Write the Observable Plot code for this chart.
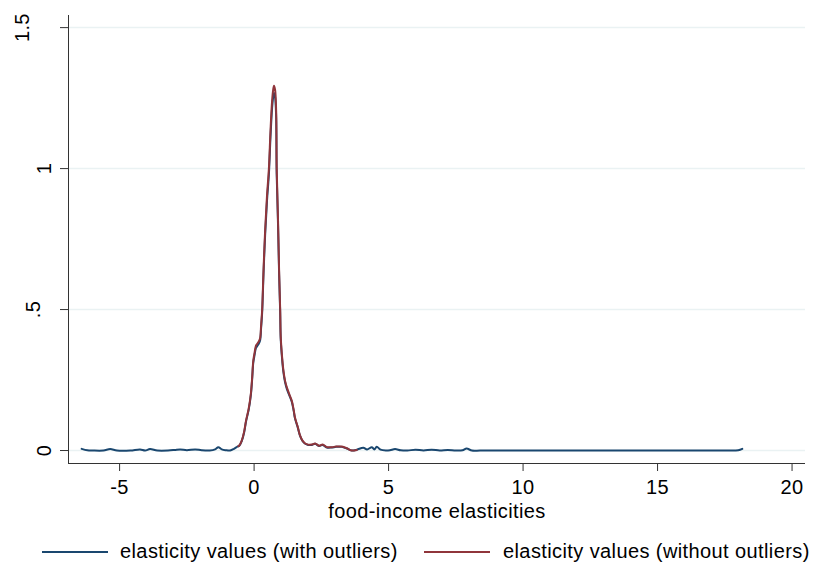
<!DOCTYPE html>
<html>
<head>
<meta charset="utf-8">
<script src="https://cdn.jsdelivr.net/npm/d3@7"></script>
<script src="https://cdn.jsdelivr.net/npm/@observablehq/plot@0.6"></script>
<style>
  html, body { margin: 0; padding: 0; background: #fff; }
  body { width: 816px; height: 562px; overflow: hidden; font-family: "Liberation Sans", Arial, sans-serif; }
  #legend { position: relative; width: 816px; height: 37px; }
  .sw { position: absolute; height: 2px; top: 26px; }
  .lt { position: absolute; top: 16px; font-size: 20px; line-height: 20px; letter-spacing: 0.4px; color: #000; white-space: nowrap; }
</style>
</head>
<body>
<div id="chart"></div>
<div id="legend">
  <div class="sw" style="left:42px;width:66px;background:#1a476f"></div>
  <div class="lt" id="l1" style="left:120px"></div>
  <div class="sw" style="left:424px;width:66px;background:#90353b"></div>
  <div class="lt" id="l2" style="left:503px"></div>
</div>
<script>
const seriesNames = ["elasticity values (with outliers)", "elasticity values (without outliers)"];
const xLabel = "food-income elasticities";
const xTicks = [-5, 0, 5, 10, 15, 20];
const yTicks = [0, 0.5, 1, 1.5];
const yTickLabels = ["0", ".5", "1", "1.5"];

// with outliers (blue)
const withX = [-6.41, -6.2, -6.0, -5.6, -5.35, -5.1, -4.6, -4.24, -4.05, -3.87, -3.6, -3.2, -2.95, -2.75, -2.5, -2.19, -1.95, -1.65, -1.45, -1.33, -1.2, -1.05, -0.89, -0.75, -0.62, -0.55, -0.46, -0.37, -0.30, -0.20, -0.12, -0.07, -0.03, 0.02, 0.07, 0.15, 0.22, 0.26, 0.30, 0.35, 0.41, 0.48, 0.55, 0.61, 0.67, 0.71, 0.74, 0.78, 0.82, 0.84, 0.89, 0.93, 0.97, 0.99, 1.04, 1.09, 1.15, 1.22, 1.30, 1.40, 1.47, 1.52, 1.62, 1.71, 1.80, 1.90, 2.01, 2.14, 2.27, 2.42, 2.55, 2.70, 2.89, 3.05, 3.26, 3.45, 3.63, 3.82, 4.06, 4.2, 4.38, 4.47, 4.56, 4.7, 4.9, 5.05, 5.24, 5.45, 5.7, 6.0, 6.3, 6.6, 6.9, 7.2, 7.5, 7.75, 7.9, 8.1, 8.4, 9.0, 10.0, 12.0, 14.0, 16.0, 17.5, 18.0, 18.15];
const withY = [0.006, 0.001, 0.0, 0.0, 0.005, 0.0, 0.0, 0.004, 0.0, 0.005, 0.0, 0.0, 0.002, 0.004, 0.001, 0.004, 0.001, 0.0, 0.004, 0.012, 0.004, 0.001, 0.0, 0.006, 0.014, 0.017, 0.033, 0.064, 0.103, 0.145, 0.197, 0.256, 0.312, 0.340, 0.364, 0.375, 0.389, 0.434, 0.490, 0.625, 0.764, 0.886, 0.980, 1.112, 1.216, 1.254, 1.268, 1.254, 1.182, 0.980, 0.800, 0.625, 0.490, 0.396, 0.326, 0.278, 0.243, 0.218, 0.198, 0.173, 0.142, 0.114, 0.083, 0.052, 0.034, 0.024, 0.020, 0.020, 0.024, 0.016, 0.020, 0.011, 0.011, 0.013, 0.013, 0.007, 0.0, 0.003, 0.010, 0.004, 0.012, 0.004, 0.013, 0.003, 0.0, 0.001, 0.005, 0.001, 0.0, 0.003, 0.0, 0.003, 0.0, 0.002, 0.0, 0.001, 0.007, 0.0, 0.0, 0.0, 0.0, 0.0, 0.0, 0.0, 0.0, 0.001, 0.006];

// without outliers (red)
const withoutX = [-0.58, -0.52, -0.46, -0.37, -0.30, -0.20, -0.12, -0.07, -0.03, 0.02, 0.07, 0.15, 0.22, 0.26, 0.30, 0.35, 0.41, 0.48, 0.55, 0.61, 0.67, 0.71, 0.74, 0.78, 0.82, 0.84, 0.89, 0.93, 0.97, 0.99, 1.04, 1.09, 1.15, 1.22, 1.30, 1.40, 1.47, 1.52, 1.62, 1.71, 1.80, 1.90, 2.01, 2.14, 2.27, 2.42, 2.55, 2.70, 2.89, 3.05, 3.26, 3.45, 3.63, 3.82];
const withoutY = [0.015, 0.022, 0.035, 0.067, 0.106, 0.149, 0.202, 0.262, 0.319, 0.348, 0.372, 0.383, 0.397, 0.443, 0.500, 0.638, 0.780, 0.904, 1.000, 1.135, 1.241, 1.280, 1.294, 1.280, 1.206, 1.000, 0.816, 0.638, 0.500, 0.404, 0.333, 0.284, 0.248, 0.223, 0.202, 0.177, 0.145, 0.117, 0.085, 0.053, 0.035, 0.025, 0.021, 0.021, 0.025, 0.017, 0.021, 0.012, 0.012, 0.014, 0.014, 0.008, 0.0, 0.002];

const blue = "#1a476f", red = "#90353b";
const withData = withX.map((x, i) => ({x, y: withY[i]}));
const withoutData = withoutX.map((x, i) => ({x, y: withoutY[i]}));
const yLabelData = yTicks.map((v, i) => ({v, t: yTickLabels[i]}));

document.getElementById("l1").textContent = seriesNames[0];
document.getElementById("l2").textContent = seriesNames[1];

const FS = 20;
const chart = Plot.plot({
  width: 816,
  height: 525,
  marginLeft: 68,
  marginRight: 11,
  marginTop: 15,
  marginBottom: 62,
  style: {fontFamily: "'Liberation Sans', Arial, sans-serif", fontSize: FS + "px", letterSpacing: "0.4px", color: "#000", background: "#fff"},
  x: {domain: [-6.9, 20.5]},
  y: {domain: [-0.046, 1.543]},
  marks: [
    Plot.ruleY(yTicks, {stroke: "#eaf2f3", strokeWidth: 1.5}),
    Plot.line(withData, {x: "x", y: "y", stroke: blue, strokeWidth: 2, curve: "catmull-rom"}),
    Plot.line(withoutData, {x: "x", y: "y", stroke: red, strokeWidth: 2, curve: "catmull-rom"}),
    Plot.axisX({ticks: xTicks, tickSize: 8, tickPadding: 8, tickFormat: d => String(d), label: null, stroke: "#333", fill: "#000", fontSize: FS}),
    Plot.axisY({ticks: yTicks, tickSize: 8, tickFormat: () => "", label: null, stroke: "#333"}),
    // Stata-like placement of rotated labels: longer labels sit further left
    ...yLabelData.map(d => Plot.text([d], {x: -6.9, y: "v", text: "t", rotate: -90, dx: -(12.5 + 11.3 * d.t.length), textAnchor: "middle", lineAnchor: "middle", fontSize: FS, fill: "#000"})),
    Plot.text([xLabel], {frameAnchor: "bottom", dy: 48, lineAnchor: "middle", fontSize: FS, fill: "#000"}),
    Plot.ruleX([-6.9], {stroke: "#333", strokeWidth: 1}),
    Plot.ruleY([-0.046], {stroke: "#333", strokeWidth: 1})
  ]
});
document.getElementById("chart").appendChild(chart);
</script>
</body>
</html>
